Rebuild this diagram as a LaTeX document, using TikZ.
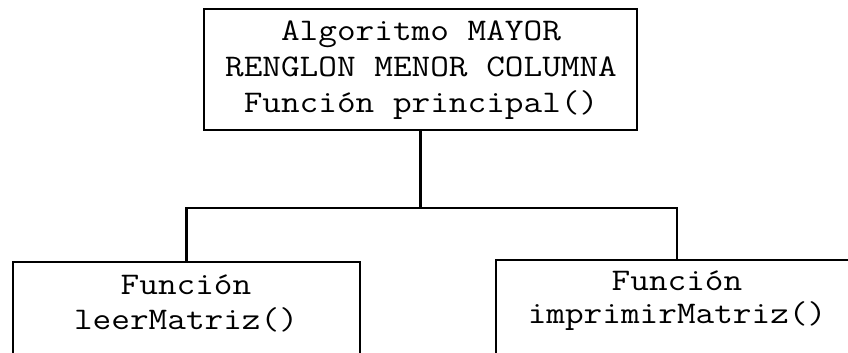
\documentclass[tikz,border=0pt]{standalone}
\usepackage{fontspec}
\begin{document}
\begin{tikzpicture}[x=1pt,y=-1pt,
    box/.style={draw=black, line width=2.5pt, rectangle, inner sep=0pt},
    label/.style={inner sep=0pt, anchor=base, xscale=1.15, transform shape,
      font=\ttfamily\fontsize{31.5}{36}\selectfont},
    link/.style={draw=black, line width=2.5pt}]
  \useasboundingbox (0,0) rectangle (848,353);
  \clip (0,0) rectangle (848,353);
  \fill[white] (0,0) rectangle (848,353);

  % boxes
  \node[box, minimum width=433pt, minimum height=121pt] (main) at (420.5,69.5) {};
  \node[box, minimum width=347pt, minimum height=160pt] (leer) at (186.5,342) {};
  \node[box, minimum width=362pt, minimum height=160pt] (impr) at (677,340) {};

  % texts
  \node[label] (m1) at (421,41) {Algoritmo MAYOR};
  \node[label] (m2) at (421,76) {RENGLON MENOR COLUMNA};
  \node[label] (m3) at (421,112) {Función principal()};
  \node[label] (l1) at (186,294) {Función};
  \node[label] (l2) at (186,329) {leerMatriz()};
  \node[label] (r1) at (677,290) {Función};
  \node[label] (r2) at (677,323) {imprimirMatriz()};

  % connectors
  \coordinate (bus) at (420.5,208);
  \coordinate (busL) at (leer.north |- bus);
  \coordinate (busR) at (impr.north |- bus);
  \draw[link] (main.south) -- (bus);
  \draw[link, line cap=rect] (leer.north) -- (busL) -- (busR) -- (impr.north);
\end{tikzpicture}
\end{document}
